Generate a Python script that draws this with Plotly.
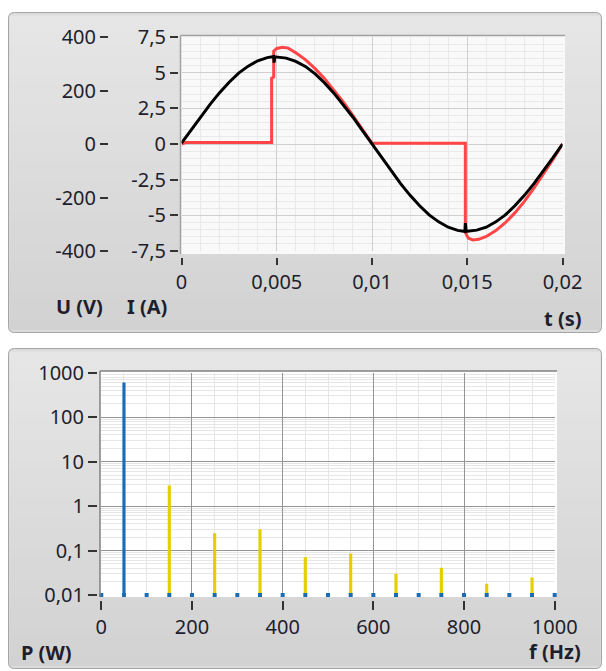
import plotly.graph_objects as go

W, H = 606, 671

# ---------------- data: top chart (mains voltage and load current) ----------------
t_u = [0, 0.0005, 0.001, 0.0015, 0.002, 0.0025, 0.003, 0.0035, 0.004, 0.0045,
       0.00484, 0.00486, 0.0049,
       0.005, 0.0055, 0.006, 0.0065, 0.007, 0.0075, 0.008, 0.0085, 0.009, 0.0095, 0.01,
       0.0105, 0.011, 0.0115, 0.012, 0.0125, 0.013, 0.0135, 0.014, 0.0145,
       0.01488, 0.0149, 0.01494,
       0.015, 0.0155, 0.016, 0.0165, 0.017, 0.0175, 0.018, 0.0185, 0.019, 0.0195, 0.02]
u_v = [3, 51, 101, 148, 192, 231, 265, 291, 311, 323,
       327, 304, 326,
       325, 321, 309, 290, 263, 229, 190, 147, 100, 50, 0,
       -51, -101, -148, -192, -231, -265, -291, -311, -323,
       -327, -296, -326,
       -326, -322, -311, -291, -265, -231, -192, -148, -101, -51, 0]

t_i = [0, 0.0002, 0.00473, 0.00473, 0.00484, 0.00484,
       0.005, 0.0053, 0.0056, 0.006, 0.0065, 0.007, 0.0075, 0.008, 0.0085, 0.009, 0.0095, 0.01,
       0.0149, 0.0149, 0.01505, 0.0153, 0.0156, 0.016, 0.0165, 0.017, 0.0175, 0.018, 0.0185,
       0.019, 0.0195, 0.02]
i_a = [0, 0.1, 0.1, 4.6, 4.7, 6.5,
       6.7, 6.78, 6.72, 6.4, 5.92, 5.3, 4.6, 3.8, 2.93, 1.99, 1.01, 0.05,
       0.05, -6.2, -6.6, -6.72, -6.68, -6.48, -6.07, -5.52, -4.83, -4.02, -3.1,
       -2.12, -1.08, 0]

t_ticks = [0, 0.005, 0.01, 0.015, 0.02]
t_labels = ["0", "0,005", "0,01", "0,015", "0,02"]
i_ticks = [-7.5, -5, -2.5, 0, 2.5, 5, 7.5]
i_labels = ["-7,5", "-5", "-2,5", "0", "2,5", "5", "7,5"]
u_ticks = [-400, -200, 0, 200, 400]
u_labels = ["-400", "-200", "0", "200", "400"]

# ---------------- data: bottom chart (power spectrum) ----------------
f_fund = [50]
p_fund = [600]
f_harm = [150, 250, 350, 450, 550, 650, 750, 850, 950]
p_harm = [2.9, 0.245, 0.30, 0.071, 0.086, 0.030, 0.041, 0.0178, 0.0247]
f_bins = [0, 50, 100, 150, 200, 250, 300, 350, 400, 450, 500,
          550, 600, 650, 700, 750, 800, 850, 900, 950, 1000]
p_bins = [0.01, 0.01, 0.01, 0.01, 0.01, 0.01, 0.01, 0.01, 0.01, 0.01, 0.01,
          0.01, 0.01, 0.01, 0.01, 0.01, 0.01, 0.01, 0.01, 0.01, 0.01]

f_ticks = [0, 200, 400, 600, 800, 1000]
f_labels = ["0", "200", "400", "600", "800", "1000"]
p_ticks = [0.01, 0.1, 1, 10, 100, 1000]
p_labels = ["0,01", "0,1", "1", "10", "100", "1000"]

# ---------------- styling ----------------
FONT = "Noto Sans"
TXT = "#1e1e2c"
TICKFONT = dict(family=FONT, size=20, color=TXT)


def px(x):
    return x / W


def py(y):
    return 1 - y / H


def rounded_path(x0, y0, x1, y1, r):
    return (f"M {px(x0 + r)},{py(y0)} L {px(x1 - r)},{py(y0)} "
            f"Q {px(x1)},{py(y0)} {px(x1)},{py(y0 + r)} L {px(x1)},{py(y1 - r)} "
            f"Q {px(x1)},{py(y1)} {px(x1 - r)},{py(y1)} L {px(x0 + r)},{py(y1)} "
            f"Q {px(x0)},{py(y1)} {px(x0)},{py(y1 - r)} L {px(x0)},{py(y0 + r)} "
            f"Q {px(x0)},{py(y0)} {px(x0 + r)},{py(y0)} Z")


def lerp_col(c0, c1, a):
    v = [round(c0[k] + (c1[k] - c0[k]) * a) for k in range(3)]
    return f"rgb({v[0]},{v[1]},{v[2]})"


shapes = []


def panel(x0, y0, x1, y1):
    top_c, bot_c = (230, 230, 230), (210, 210, 210)
    shapes.append(dict(type="path", path=rounded_path(x0, y0, x1, y1, 6), xref="paper", yref="paper",
                       fillcolor=lerp_col(top_c, bot_c, 0.5), line=dict(width=0), layer="below"))
    n = 32
    hh = (y1 - y0 - 6) / n
    for k in range(n):
        ya = y0 + 3 + k * hh
        shapes.append(dict(type="rect", xref="paper", yref="paper",
                           x0=px(x0 + 1), x1=px(x1 - 1), y0=py(ya), y1=py(ya + hh + 0.6),
                           fillcolor=lerp_col(top_c, bot_c, k / (n - 1)), line=dict(width=0), layer="below"))
    shapes.append(dict(type="path", path=rounded_path(x0, y0, x1, y1, 6), xref="paper", yref="paper",
                       fillcolor="rgba(0,0,0,0)", line=dict(width=1, color="#a4a4a4"), layer="below"))


panel(8.5, 12.5, 601.5, 332.5)
panel(8.5, 348.5, 601.5, 668.5)

# plot areas
shapes.append(dict(type="rect", xref="paper", yref="paper", x0=px(180.5), x1=px(565), y0=py(35.5), y1=py(254),
                   fillcolor="#f9f9f9", line=dict(width=0), layer="below"))
shapes.append(dict(type="rect", xref="paper", yref="paper", x0=px(100), x1=px(557), y0=py(371), y1=py(597),
                   fillcolor="#ffffff", line=dict(width=0), layer="below"))
# plot borders (top and left)
for (xa, ya, xb, yb, c) in [(180.5, 35.5, 565, 35.5, "#a0a0a0"), (180.5, 35.5, 180.5, 254, "#a0a0a0"),
                             (100, 371, 557, 371, "#808080"), (100, 371, 100, 597, "#808080")]:
    shapes.append(dict(type="line", xref="paper", yref="paper", x0=px(xa), x1=px(xb), y0=py(ya), y1=py(yb),
                       line=dict(color=c, width=1.5), layer="above"))

fig = go.Figure()

# top chart traces
fig.add_trace(go.Scatter(x=t_i, y=i_a, mode="lines", line=dict(color="#ff4545", width=3),
                         xaxis="x", yaxis="y", showlegend=False, hoverinfo="skip"))
fig.add_trace(go.Scatter(x=t_u, y=u_v, mode="lines", line=dict(color="#000000", width=3),
                         xaxis="x", yaxis="y3", showlegend=False, hoverinfo="skip"))

# bottom chart traces
fig.add_trace(go.Bar(x=f_harm, y=p_harm, width=7, marker=dict(color="#e6cf00", line=dict(width=0)),
                     xaxis="x2", yaxis="y2", showlegend=False, hoverinfo="skip"))
fig.add_trace(go.Bar(x=f_fund, y=p_fund, width=7, marker=dict(color="#1a6db4", line=dict(width=0)),
                     xaxis="x2", yaxis="y2", showlegend=False, hoverinfo="skip"))
fig.add_trace(go.Scatter(x=f_bins, y=p_bins, mode="markers",
                         marker=dict(symbol="square", size=4, color="#1a6db4", line=dict(width=0)),
                         cliponaxis=False, xaxis="x2", yaxis="y2", showlegend=False, hoverinfo="skip"))

TOP_DOM_Y = [py(251), py(37)]
BOT_DOM_Y = [py(595), py(372.7)]

log_minor = [m * 10 ** e for e in range(-2, 3) for m in range(2, 10)]

common = dict(automargin=False, showline=False, zeroline=False, fixedrange=True,
              ticks="outside", tickwidth=1.5, tickcolor="#333333", tickfont=TICKFONT, tickmode="array")

fig.update_layout(
    template="none",
    width=W, height=H, autosize=False,
    margin=dict(l=0, r=0, t=0, b=0, pad=0),
    paper_bgcolor="#ffffff", plot_bgcolor="rgba(0,0,0,0)",
    barmode="overlay",
    shapes=shapes,
    xaxis=dict(domain=[px(181.5), px(562.5)], range=[0, 0.02], anchor="free", position=py(256.5),
               tickvals=t_ticks, ticktext=t_labels, ticklen=7,
               showgrid=True, gridcolor="#d0d0d0", gridwidth=1,
               minor=dict(dtick=0.001, tick0=0, showgrid=True, gridcolor="#e9e9e9", gridwidth=1, ticks=""),
               **common),
    yaxis=dict(domain=TOP_DOM_Y, range=[-7.5, 7.5], anchor="free", position=px(178),
               tickvals=i_ticks, ticktext=i_labels, ticklen=8,
               showgrid=True, gridcolor="#d0d0d0", gridwidth=1,
               minor=dict(dtick=0.5, tick0=0, showgrid=True, gridcolor="#e9e9e9", gridwidth=1, ticks=""),
               **common),
    yaxis3=dict(range=[-400, 400], overlaying="y", anchor="free", position=px(108), side="left",
                tickvals=u_ticks, ticktext=u_labels, ticklen=8, showgrid=False, **common),
    xaxis2=dict(domain=[px(101.3), px(554.7)], range=[0, 1000], anchor="free", position=py(600),
                tickvals=f_ticks, ticktext=f_labels, ticklen=9,
                showgrid=True, gridcolor="#959595", gridwidth=1.3,
                minor=dict(dtick=50, tick0=0, showgrid=True, gridcolor="#e6e6e6", gridwidth=1, ticks=""),
                **common),
    yaxis2=dict(domain=BOT_DOM_Y, type="log", range=[-2, 3], anchor="free", position=px(97),
                tickvals=p_ticks, ticktext=p_labels, ticklen=9,
                showgrid=True, gridcolor="#959595", gridwidth=1.3,
                minor=dict(tickmode="array", tickvals=log_minor, showgrid=True, gridcolor="#e6e6e6",
                           gridwidth=1, ticks=""),
                **common),
    annotations=[
        dict(text="<b>U (V)</b>", x=px(79), y=py(306), xref="paper", yref="paper",
             xanchor="center", yanchor="middle", showarrow=False, font=dict(family=FONT, size=20, color=TXT)),
        dict(text="<b>I (A)</b>", x=px(147), y=py(306), xref="paper", yref="paper",
             xanchor="center", yanchor="middle", showarrow=False, font=dict(family=FONT, size=20, color=TXT)),
        dict(text="<b>t (s)</b>", x=px(583), y=py(318), xref="paper", yref="paper",
             xanchor="right", yanchor="middle", showarrow=False, font=dict(family=FONT, size=20, color=TXT)),
        dict(text="<b>P (W)</b>", x=px(19), y=py(652), xref="paper", yref="paper",
             xanchor="left", yanchor="middle", showarrow=False, font=dict(family=FONT, size=20, color=TXT)),
        dict(text="<b>f (Hz)</b>", x=px(583), y=py(651), xref="paper", yref="paper",
             xanchor="right", yanchor="middle", showarrow=False, font=dict(family=FONT, size=20, color=TXT)),
    ],
)

fig.write_html("out.html")
